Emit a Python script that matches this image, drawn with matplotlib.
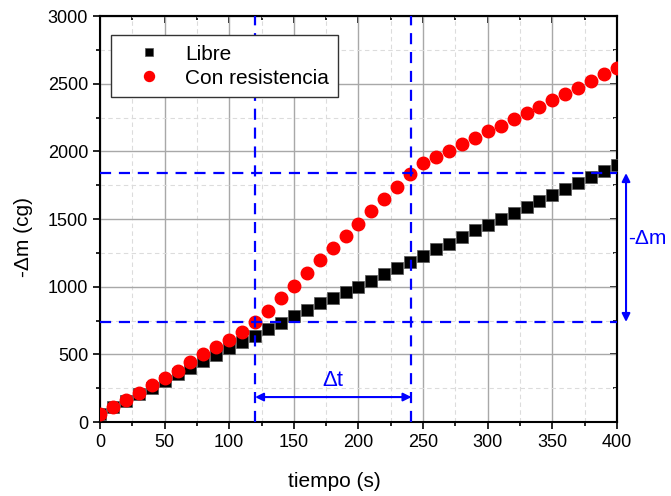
import numpy as np
import matplotlib.pyplot as plt
from matplotlib.ticker import MultipleLocator

plt.rcParams['font.family'] = ['Liberation Sans', 'DejaVu Sans']

# datos
tiempo = np.arange(0, 401, 10)
libre = [62, 108, 157, 207, 253, 300, 352, 401, 448, 495,
         544, 593, 638, 685, 729, 781, 828, 877, 916, 961,
         998, 1044, 1094, 1136, 1180, 1229, 1281, 1318, 1365, 1416,
         1456, 1500, 1547, 1589, 1633, 1680, 1719, 1764, 1808, 1855,
         1899]
con_resistencia = [60, 109, 160, 217, 276, 325, 377, 443, 500, 552,
                   606, 663, 737, 823, 914, 1005, 1103, 1197, 1290, 1377,
                   1465, 1561, 1648, 1739, 1830, 1912, 1961, 2005, 2052, 2101,
                   2153, 2190, 2239, 2281, 2330, 2379, 2428, 2470, 2522, 2569,
                   2614]

t1, t2 = 120, 241
m1, m2 = 740, 1840
y_dt = 185

fig = plt.figure(figsize=(6.71, 4.96), dpi=100)
ax = fig.add_axes([0.149, 0.149, 0.7705, 0.8185])

ax.grid(True, which='major', color='#a8a8a8', lw=1.0, zorder=0)
ax.grid(True, which='minor', color='#dcdcdc', lw=0.8, ls=(0, (4, 3)), zorder=0)

ax.plot(tiempo, libre, 's', color='black', mec='#555555', mew=0.5,
        ms=8, label='Libre', zorder=3)
ax.plot(tiempo, con_resistencia, 'o', color='red', mec='red',
        ms=9, label='Con resistencia', zorder=4)

dash = (0, (5, 3.5))
ax.axvline(t1, color='blue', lw=1.6, ls=dash, zorder=5)
ax.axvline(t2, color='blue', lw=1.6, ls=dash, zorder=5)
ax.axhline(m1, color='blue', lw=1.6, ls=dash, zorder=5)
ax.axhline(m2, color='blue', lw=1.6, ls=dash, zorder=5)

# flecha delta t
ax.annotate('', xy=(t1, y_dt), xytext=(t2, y_dt),
            arrowprops=dict(arrowstyle='<|-|>', color='blue', lw=1.5,
                            mutation_scale=12, shrinkA=0, shrinkB=0))
ax.text((t1 + t2) / 2, y_dt + 45, '\u0394t', color='blue', fontsize=16,
        ha='center', va='bottom')

# flecha -delta m fuera del eje
ax.annotate('', xy=(407, m1), xytext=(407, m2),
            arrowprops=dict(arrowstyle='<|-|>', color='blue', lw=1.5,
                            mutation_scale=12, shrinkA=0, shrinkB=0),
            annotation_clip=False)
ax.text(409, (m1 + m2) / 2 + 70, '-\u0394m', color='blue', fontsize=15,
        ha='left', va='center', clip_on=False)

ax.set_xlim(0, 400)
ax.set_ylim(0, 3000)
ax.xaxis.set_major_locator(MultipleLocator(50))
ax.xaxis.set_minor_locator(MultipleLocator(25))
ax.yaxis.set_major_locator(MultipleLocator(500))
ax.yaxis.set_minor_locator(MultipleLocator(250))

ax.tick_params(which='both', direction='out', labelsize=13, width=1.2,
               top=False, right=False)
ax.tick_params(which='major', length=5)
ax.tick_params(which='minor', length=3)
for s in ax.spines.values():
    s.set_linewidth(1.5)

# ticks hacia dentro arriba y a la derecha
sec_x = ax.secondary_xaxis('top')
sec_x.xaxis.set_major_locator(MultipleLocator(50))
sec_x.xaxis.set_minor_locator(MultipleLocator(25))
sec_x.tick_params(which='both', direction='in', labeltop=False, width=1.2)
sec_x.tick_params(which='major', length=5)
sec_x.tick_params(which='minor', length=3)
sec_x.spines['top'].set_linewidth(1.5)
sec_y = ax.secondary_yaxis('right')
sec_y.yaxis.set_major_locator(MultipleLocator(500))
sec_y.yaxis.set_minor_locator(MultipleLocator(250))
sec_y.tick_params(which='both', direction='in', labelright=False, width=1.2)
sec_y.tick_params(which='major', length=5)
sec_y.tick_params(which='minor', length=3)
sec_y.spines['right'].set_linewidth(1.5)

ax.set_xlabel('tiempo (s)', fontsize=15)
ax.set_ylabel('-\u0394m (cg)', fontsize=15)
ax.xaxis.set_label_coords(0.453, -0.122)
ax.yaxis.set_label_coords(-0.13, 0.456)

leg = ax.legend(loc='upper left', bbox_to_anchor=(0.021, 0.953), fontsize=15,
                fancybox=False, framealpha=1, edgecolor='#333333',
                handletextpad=0.3, borderpad=0.45, labelspacing=0.25,
                handlelength=2.8, markerscale=0.8, borderaxespad=0)
leg.get_frame().set_linewidth(1.0)
leg.set_zorder(6)

fig.savefig('out.png', dpi=100)
